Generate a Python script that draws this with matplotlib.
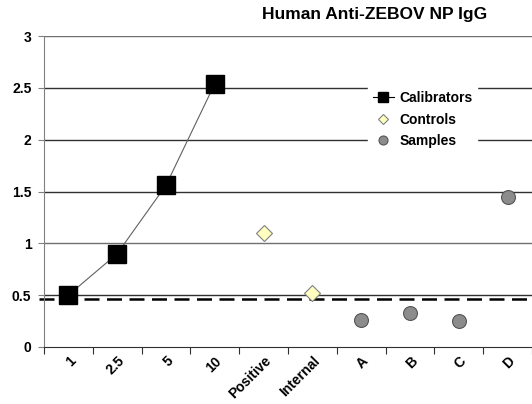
import matplotlib.pyplot as plt
from matplotlib.lines import Line2D

plt.rcParams['font.family'] = ['Liberation Sans', 'DejaVu Sans']

categories = ['1', '2.5', '5', '10', 'Positive', 'Internal', 'A', 'B', 'C', 'D']
calibrator_idx = [1, 2, 3, 4]
calibrator_vals = [0.50, 0.90, 1.56, 2.54]
control_idx = [5, 6]
control_vals = [1.10, 0.52]
sample_idx = [7, 8, 9, 10]
sample_vals = [0.26, 0.33, 0.25, 1.45]
cutoff = 0.465
y_ticks = [0, 0.5, 1, 1.5, 2, 2.5, 3]

W, H = 532, 404
fig = plt.figure(figsize=(W / 100, H / 100), dpi=100)
# axes in pixel coords: left 44, right beyond edge, y0 at 347, y3 at 36
ax = fig.add_axes([44 / W, (H - 347) / H, 488 / W, (347 - 36) / H])

ax.set_xlim(0.5, 0.5 + 488 / 49.2)
ax.set_ylim(0, 3)

# gridlines
for y in y_ticks[1:]:
    ax.axhline(y, color='#303030' if y != 1 and y != 3 else '#707070',
               lw=1.0, zorder=1)

# cutoff line
ax.axhline(cutoff, xmin=-0.01, xmax=1, color='black', lw=1.8,
           ls=(0, (6, 3)), clip_on=False, zorder=2)

ax.plot(calibrator_idx, calibrator_vals, color='#606060', lw=0.8,
        marker='s', markersize=12.5, markerfacecolor='black',
        markeredgecolor='black', zorder=4)
ax.plot(control_idx, control_vals, ls='none', marker='D', markersize=8,
        markerfacecolor='#FFFFC0', markeredgecolor='#808080',
        markeredgewidth=0.8, zorder=4)
ax.plot(sample_idx, sample_vals, ls='none', marker='o', markersize=10,
        markerfacecolor='#8C8C8C', markeredgecolor='#555555',
        markeredgewidth=0.8, zorder=4)

# spines & ticks
for s in ['top', 'right']:
    ax.spines[s].set_visible(False)
ax.spines['left'].set_color('#808080')
ax.spines['bottom'].set_color('#303030')

ax.set_yticks(y_ticks)
ax.set_yticklabels([f'{v:g}' for v in y_ticks], fontsize=10, fontweight='bold')
ax.tick_params(axis='y', length=4, color='#808080', pad=5)

ax.set_xticks([i + 0.5 for i in range(0, 11)])
ax.set_xticklabels([])
ax.set_xticks(range(1, 11), minor=True)
ax.set_xticklabels(categories, minor=True, rotation=45, ha='right',
                   rotation_mode='anchor', fontsize=10, fontweight='bold')
ax.tick_params(axis='x', which='major', length=5, color='#303030',
               direction='out')
ax.tick_params(axis='x', which='minor', length=0, pad=5)

fig.text(375 / W, 1 - 15 / H, 'Human Anti-ZEBOV NP IgG', ha='center',
         va='center', fontsize=12.5, fontweight='bold')

handles = [
    Line2D([], [], color='black', lw=0.8, marker='s', markersize=7,
           markerfacecolor='black'),
    Line2D([], [], ls='none', marker='D', markersize=5,
           markerfacecolor='#FFFFC0', markeredgecolor='#808080',
           markeredgewidth=0.8),
    Line2D([], [], ls='none', marker='o', markersize=6.5,
           markerfacecolor='#8C8C8C', markeredgecolor='#555555',
           markeredgewidth=0.8),
]
leg = ax.legend(handles, ['Calibrators', 'Controls', 'Samples'],
                loc='upper left', bbox_to_anchor=((368 - 44) / 488, (347 - 86) / 311),
                frameon=True, fancybox=False, edgecolor='white',
                framealpha=1, handlelength=1.5,
                handletextpad=0.4, labelspacing=0.55, borderpad=0.35,
                borderaxespad=0,
                prop={'weight': 'bold', 'size': 10})
leg.set_zorder(5)

fig.savefig('out.png', dpi=100)
